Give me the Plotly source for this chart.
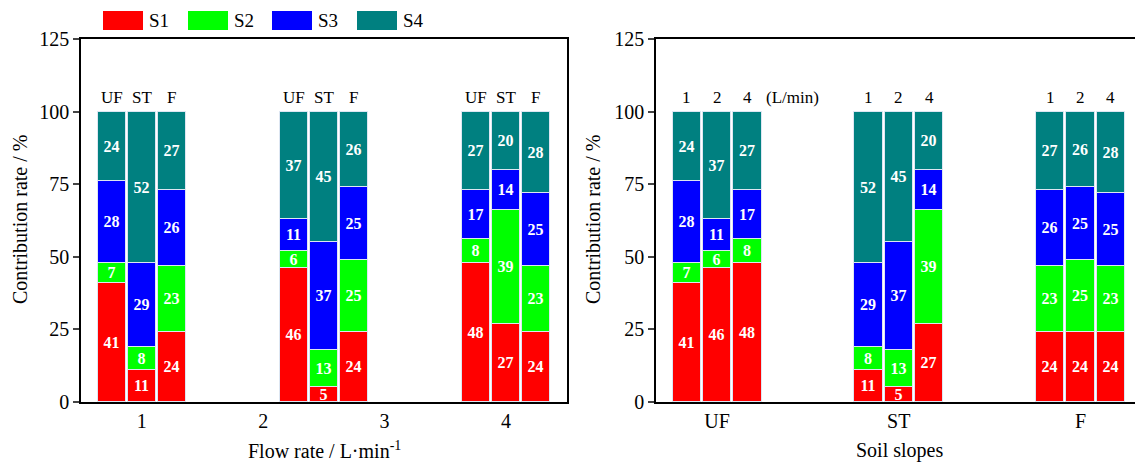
import plotly.graph_objects as go

# ---- data (rows: soil slope, columns: flow rate) ----
slopes = ["UF", "ST", "F"]
flows = ["1", "2", "4"]
series_names = ["S1", "S2", "S3", "S4"]
S1 = [[41, 46, 48], [11, 5, 27], [24, 24, 24]]
S2 = [[7, 6, 8], [8, 13, 39], [23, 25, 23]]
S3 = [[28, 11, 17], [29, 37, 14], [26, 25, 25]]
S4 = [[24, 37, 27], [52, 45, 20], [27, 26, 28]]
flow_group_pos = [1, 2.5, 4]        # where the flow groups sit on the left axis
flow_ticks = [1, 2, 3, 4]
slope_group_pos = [1, 2, 3]

colors = ["#FF0000", "#00FF00", "#0000FF", "#008080"]
series = [S1, S2, S3, S4]

W, H = 1135, 464
FONT = "Liberation Serif"

fig = go.Figure()

off_l = [-0.247, 0.0, 0.247]
w_l = 0.23
off_r = [-0.1667, 0.0, 0.1667]
w_r = 0.157

edge = dict(color="#dde6f2", width=1)
txtfont = dict(family=FONT, size=16, color="white", weight="bold")

for k, (name, data) in enumerate(zip(series_names, series)):
    # left: grouped by flow rate, bars = slopes
    xs, ys = [], []
    for i in range(len(flows)):
        for j in range(len(slopes)):
            xs.append(flow_group_pos[i] + off_l[j])
            ys.append(data[j][i])
    fig.add_trace(go.Bar(x=xs, y=ys, width=w_l, name=name, marker_color=colors[k],
                         marker_line=edge, text=[str(v) for v in ys],
                         textposition="inside", insidetextanchor="middle", textangle=0,
                         constraintext="none", textfont=txtfont, showlegend=False,
                         xaxis="x", yaxis="y"))
    # right: grouped by slope, bars = flows
    xs, ys = [], []
    for j in range(len(slopes)):
        for i in range(len(flows)):
            xs.append(slope_group_pos[j] + off_r[i])
            ys.append(data[j][i])
    fig.add_trace(go.Bar(x=xs, y=ys, width=w_r, name=name, marker_color=colors[k],
                         marker_line=edge, text=[str(v) for v in ys],
                         textposition="inside", insidetextanchor="middle", textangle=0,
                         constraintext="none", textfont=txtfont, showlegend=False,
                         xaxis="x2", yaxis="y2"))

annotations = []
lab_font = dict(family=FONT, size=17, color="black")
# labels above bars, left
for i in range(len(flows)):
    for j in range(len(slopes)):
        annotations.append(dict(x=flow_group_pos[i] + off_l[j], y=100, xref="x", yref="y",
                                text=slopes[j], showarrow=False, yanchor="bottom", yshift=3,
                                font=lab_font))
# labels above bars, right
for j in range(len(slopes)):
    for i in range(len(flows)):
        annotations.append(dict(x=slope_group_pos[j] + off_r[i], y=100, xref="x2", yref="y2",
                                text=flows[i], showarrow=False, yanchor="bottom", yshift=3,
                                font=lab_font))
annotations.append(dict(x=slope_group_pos[0] + off_r[2] + w_r / 2, y=100, xref="x2", yref="y2",
                        text="(L/min)", showarrow=False, yanchor="bottom", xanchor="left",
                        yshift=3, xshift=2, font=lab_font))

# axis titles
title_font = dict(family=FONT, size=20, color="black")
annotations += [
    dict(x=20 / W, y=1 - 220 / H, xref="paper", yref="paper", text="Contribution rate / %",
         textangle=-90, showarrow=False, xanchor="center", yanchor="middle", font=title_font),
    dict(x=593 / W, y=1 - 220 / H, xref="paper", yref="paper", text="Contribution rate / %",
         textangle=-90, showarrow=False, xanchor="center", yanchor="middle", font=title_font),
    dict(x=324 / W, y=1 - 450 / H, xref="paper", yref="paper",
         text="Flow rate / L·min<sup>-1</sup>", showarrow=False, xanchor="center",
         yanchor="middle", font=title_font),
    dict(x=899 / W, y=1 - 450 / H, xref="paper", yref="paper", text="Soil slopes",
         showarrow=False, xanchor="center", yanchor="middle", font=title_font),
]

# custom legend (large swatches)
shapes = []
leg_x = [103, 188, 272, 357]
for k, name in enumerate(series_names):
    x0 = leg_x[k]
    shapes.append(dict(type="rect", xref="paper", yref="paper",
                       x0=x0 / W, x1=(x0 + 40) / W, y0=1 - 30 / H, y1=1 - 11 / H,
                       fillcolor=colors[k], line=dict(width=0)))
    annotations.append(dict(x=(x0 + 44) / W, y=1 - 20.5 / H, xref="paper", yref="paper",
                            text=name, showarrow=False, xanchor="left", yanchor="middle",
                            font=dict(family=FONT, size=19, color="black")))

axis_common = dict(showline=True, linecolor="black", linewidth=1.5, showgrid=False,
                   zeroline=False, automargin=False,
                   tickfont=dict(family=FONT, size=20, color="black"))

ydom = [1 - 402 / H, 1 - 39 / H]
fig.update_layout(
    width=W, height=H,
    margin=dict(l=0, r=0, t=0, b=0, autoexpand=False),
    paper_bgcolor="white", plot_bgcolor="white",
    barmode="stack", bargap=0,
    font=dict(family=FONT, color="black"),
    uniformtext=dict(minsize=16, mode="show"),
    xaxis=dict(domain=[81 / W, 566.7 / W], range=[0.5, 4.5], tickvals=flow_ticks,
               ticktext=[str(t) for t in flow_ticks], ticks="", mirror=True,
               anchor="y", **axis_common),
    yaxis=dict(domain=ydom, range=[0, 125], dtick=25, ticks="outside", ticklen=6,
               tickwidth=1.5, mirror=True, anchor="x", **axis_common),
    xaxis2=dict(domain=[656 / W, 1.0], range=[0.664, 3.30], tickvals=slope_group_pos,
                ticktext=slopes, ticks="", mirror=True, anchor="y2", **axis_common),
    yaxis2=dict(domain=ydom, range=[0, 125], dtick=25, ticks="outside", ticklen=6,
                tickwidth=1.5, mirror=False, anchor="x2", **axis_common),
    annotations=annotations,
    shapes=shapes,
)

fig.write_html("out.html", config={"displayModeBar": False},
               post_script="document.body.style.margin='0px';")
